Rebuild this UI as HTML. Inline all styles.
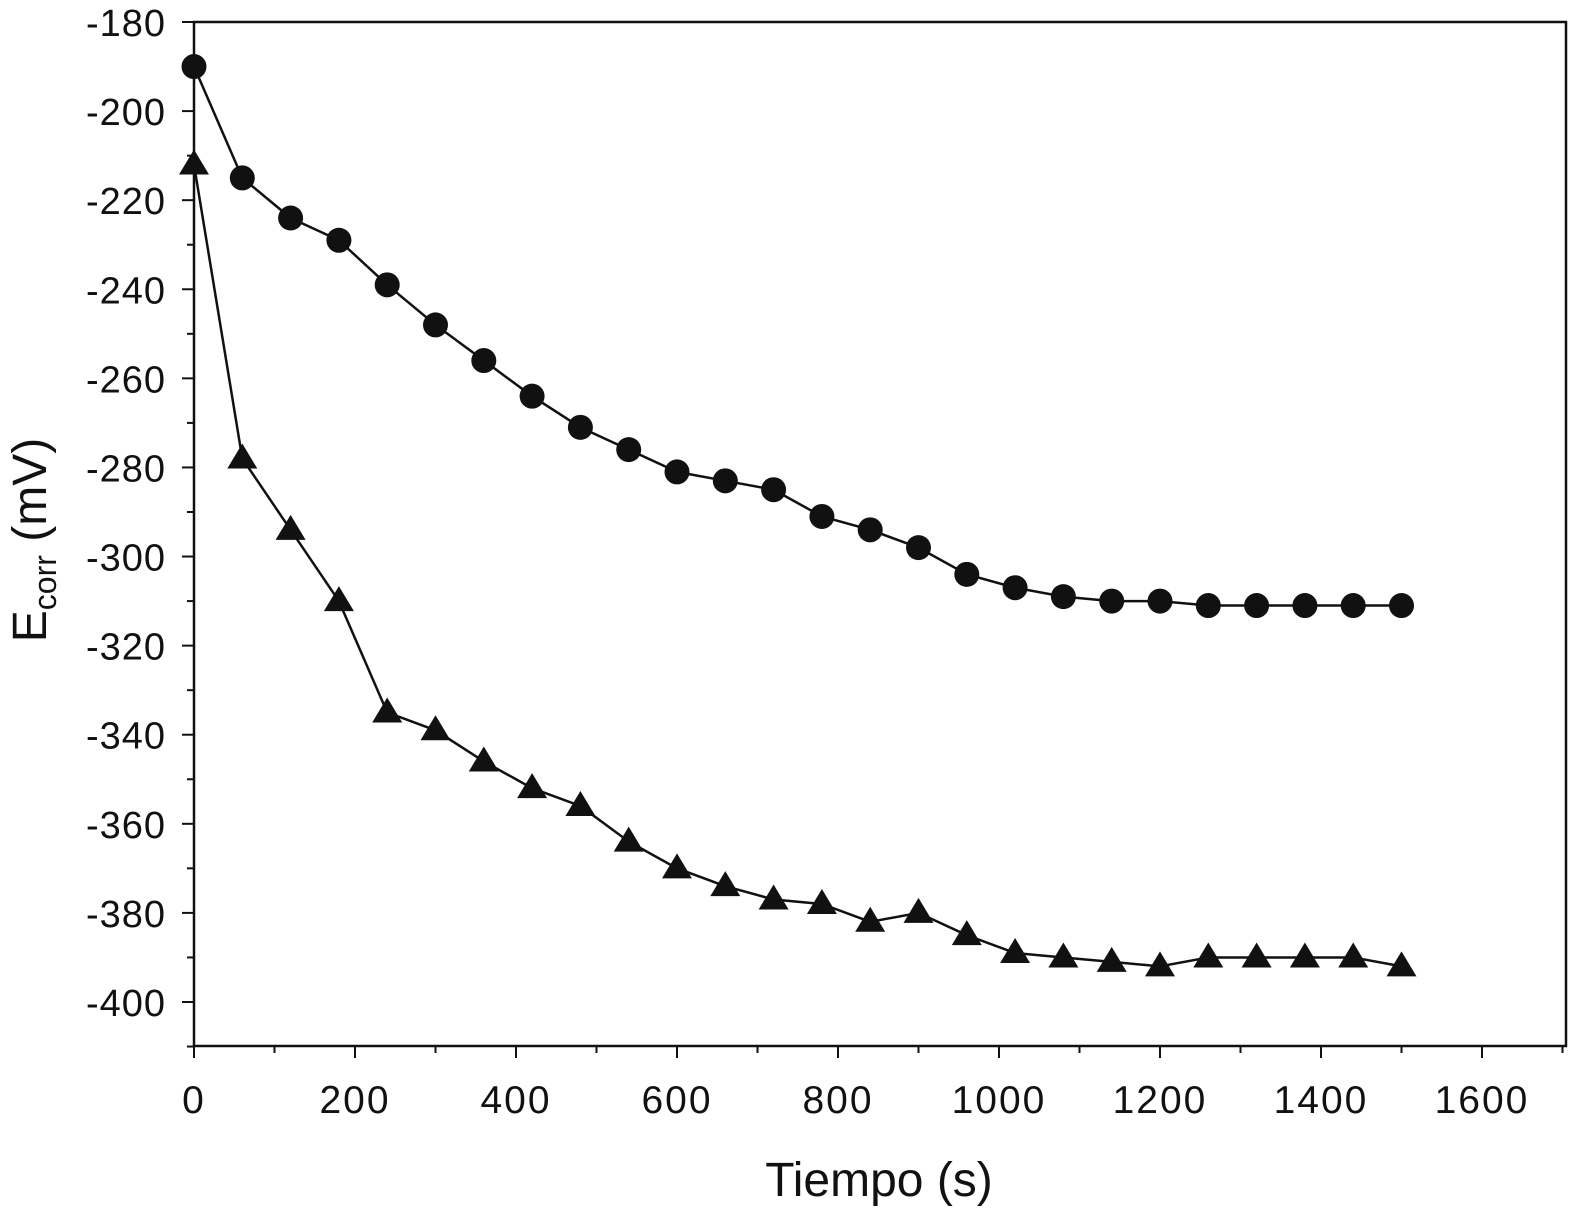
<!DOCTYPE html>
<html><head><meta charset="utf-8"><style>
body{margin:0;background:#fff}
svg{display:block;font-family:"Liberation Sans",Arial,sans-serif}
</style></head><body>
<svg id="chart" width="1589" height="1221"></svg>
<script>
const times=[0,60,120,180,240,300,360,420,480,540,600,660,720,780,840,900,960,1020,1080,1140,1200,1260,1320,1380,1440,1500];
const circleSeries=[-190,-215,-224,-229,-239,-248,-256,-264,-271,-276,-281,-283,-285,-291,-294,-298,-304,-307,-309,-310,-310,-311,-311,-311,-311,-311];
const triangleSeries=[-212,-278,-294,-310,-335,-339,-346,-352,-356,-364,-370,-374,-377,-378,-382,-380,-385,-389,-390,-391,-392,-390,-390,-390,-390,-392];
const xTicks=[0,200,400,600,800,1000,1200,1400,1600];
const yTicks=[-180,-200,-220,-240,-260,-280,-300,-320,-340,-360,-380,-400];
const NS="http://www.w3.org/2000/svg";
const svg=document.getElementById('chart');
const L=194,R=1566,T=22,B=1046;
const X=v=>L+v*0.805;
const Y=v=>T+(-180-v)*4.4545;
function mk(tag,a,parent){const e=document.createElementNS(NS,tag);for(const k in a)e.setAttribute(k,a[k]);(parent||svg).appendChild(e);return e;}
const frame=mk('rect',{x:L,y:T,width:R-L,height:B-T,fill:'none',stroke:'#111','stroke-width':2.5});


for(let v=-180;v>=-410;v-=10){const maj=v%20===0;const t=mk('line',{x1:L-(maj?12:7),x2:L,y1:Y(v),y2:Y(v),stroke:'#111','stroke-width':2});

}
for(let v=0;v<=1700;v+=100){const maj=v%200===0;const t=mk('line',{x1:X(v),x2:X(v),y1:B,y2:B+(maj?12:7),stroke:'#111','stroke-width':2});

}
yTicks.forEach(v=>{const t=mk('text',{x:L-28,y:Y(v)+14,'text-anchor':'end','font-size':38,'letter-spacing':1,fill:'#111'});t.textContent=v;

});
xTicks.forEach(v=>{const t=mk('text',{x:X(v),y:B+67,'text-anchor':'middle','font-size':39,'letter-spacing':2,fill:'#111'});t.textContent=v;

});
const xt=mk('text',{x:879,y:1196,'text-anchor':'middle','font-size':48,fill:'#111'});xt.textContent='Tiempo (s)';


const yt=mk('text',{transform:'translate(46,540) rotate(-90)','text-anchor':'middle','font-size':48,fill:'#111'});
yt.innerHTML='E<tspan font-size="32" dy="10">corr</tspan><tspan dy="-10"> (mV)</tspan>';


function line(vals,name){const p=mk('polyline',{points:times.map((t,i)=>X(t)+','+Y(vals[i])).join(' '),fill:'none',stroke:'#111','stroke-width':2.5});

}
line(circleSeries,'circle-series-line');
line(triangleSeries,'triangle-series-line');
times.forEach((t,i)=>{const c=mk('circle',{cx:X(t),cy:Y(circleSeries[i]),r:12.5,fill:'#111'});


const x=X(t),y=Y(triangleSeries[i]);
const tr=mk('polygon',{points:`${x},${y-15} ${x-15},${y+10} ${x+15},${y+10}`,fill:'#111'});

});
</script>
</body></html>
